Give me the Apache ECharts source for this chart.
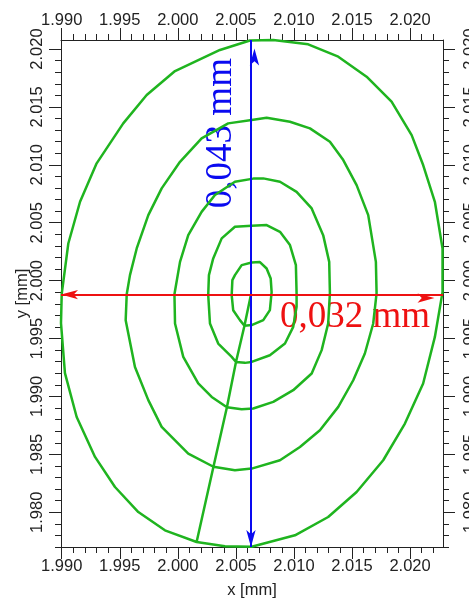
<!DOCTYPE html>
<html>
<head>
<meta charset="utf-8">
<script src="https://cdn.jsdelivr.net/npm/echarts@6/dist/echarts.min.js"></script>
<style>
  html, body { margin: 0; padding: 0; background: #ffffff; }
  #main { width: 469px; height: 598px; }
</style>
</head>
<body>
<div id="main"></div>
<script>
// Scan path: starts at the centre, then each ring opens and closes where the feed line crosses it
const startPoint = [2.00628, 1.99870];

const ring1 = [
  [2.00574, 1.99611], [2.00535, 1.99659], [2.00477, 1.99745], [2.00464, 1.99875], [2.00470, 2.00004],
  [2.00492, 2.00048], [2.00550, 2.00134], [2.00636, 2.00156], [2.00707, 2.00160], [2.00765, 2.00105],
  [2.00800, 2.00019], [2.00808, 1.99901], [2.00793, 1.99745], [2.00736, 1.99659], [2.00636, 1.99616],
  [2.00574, 1.99611]
];

const ring2 = [
  [2.00501, 1.99298], [2.00464, 1.99342], [2.00348, 1.99457], [2.00277, 1.99630], [2.00262, 1.99875],
  [2.00268, 2.00048], [2.00305, 2.00192], [2.00378, 2.00365], [2.00492, 2.00465], [2.00636, 2.00475],
  [2.00765, 2.00480], [2.00880, 2.00422], [2.00966, 2.00307], [2.01017, 2.00134], [2.01023, 1.99892],
  [2.01023, 1.99774], [2.00994, 1.99601], [2.00923, 1.99457], [2.00793, 1.99356], [2.00636, 1.99298],
  [2.00578, 1.99290], [2.00501, 1.99298]
];

const ring3 = [
  [2.00423, 1.98907], [2.00292, 1.98996], [2.00176, 1.99112], [2.00047, 1.99342], [1.99976, 1.99630],
  [1.99971, 1.99883], [2.00019, 2.00162], [2.00090, 2.00393], [2.00205, 2.00594], [2.00320, 2.00739],
  [2.00492, 2.00854], [2.00650, 2.00881], [2.00736, 2.00883], [2.00880, 2.00854], [2.01023, 2.00767],
  [2.01153, 2.00624], [2.01252, 2.00393], [2.01304, 2.00162], [2.01310, 1.99892], [2.01295, 1.99630],
  [2.01239, 1.99400], [2.01153, 1.99198], [2.00994, 1.99054], [2.00822, 1.98953], [2.00650, 1.98896],
  [2.00550, 1.98890], [2.00423, 1.98907]
];

const ring4 = [
  [2.00307, 1.98393], [2.00090, 1.98507], [1.99861, 1.98737], [1.99746, 1.98968], [1.99631, 1.99255],
  [1.99551, 1.99659], [1.99560, 1.99883], [1.99588, 2.00048], [1.99646, 2.00278], [1.99746, 2.00566],
  [1.99861, 2.00797], [2.00019, 2.01026], [2.00205, 2.01229], [2.00434, 2.01358], [2.00636, 2.01387],
  [2.00765, 2.01407], [2.00966, 2.01372], [2.01138, 2.01315], [2.01310, 2.01199], [2.01425, 2.01041],
  [2.01540, 2.00825], [2.01640, 2.00566], [2.01706, 2.00162], [2.01712, 1.99892], [2.01683, 1.99630],
  [2.01611, 1.99371], [2.01511, 1.99140], [2.01382, 1.98910], [2.01224, 1.98708], [2.01052, 1.98564],
  [2.00880, 1.98449], [2.00636, 1.98377], [2.00492, 1.98363], [2.00307, 1.98393]
];

const ring5 = [
  [2.00162, 1.97743], [1.99889, 1.97844], [1.99660, 1.98002], [1.99459, 1.98218], [1.99287, 1.98478],
  [1.99129, 1.98823], [1.99028, 1.99201], [1.98994, 1.99633], [1.99000, 1.99883], [1.99057, 2.00321],
  [1.99158, 2.00681], [1.99301, 2.01013], [1.99530, 2.01358], [1.99732, 2.01603], [1.99976, 2.01810],
  [2.00363, 2.01992], [2.00621, 2.02074], [2.00822, 2.02078], [2.01123, 2.02041], [2.01382, 2.01934],
  [2.01626, 2.01761], [2.01841, 2.01545], [2.02014, 2.01257], [2.02113, 2.00998], [2.02214, 2.00681],
  [2.02280, 2.00278], [2.02280, 1.99901], [2.02214, 1.99514], [2.02113, 1.99112], [2.01956, 1.98766],
  [2.01769, 1.98449], [2.01540, 1.98175], [2.01295, 1.97959], [2.01009, 1.97801], [2.00636, 1.97702],
  [2.00406, 1.97706], [2.00162, 1.97743]
];

// Axis extents and labelled ticks
const xRange = [1.98994, 2.02284];
const yRange = [1.97700, 2.02078];
const xTickLabels = [1.990, 1.995, 2.000, 2.005, 2.010, 2.015, 2.020];
const yTickLabels = [1.980, 1.985, 1.990, 1.995, 2.000, 2.005, 2.010, 2.015, 2.020];

// Dimension arrows: full height at x = heightAt, full width at y = widthAt
const heightAt = 2.00630;
const widthAt = 1.99880;
const heightText = '0,043 mm';
const widthText = '0,032 mm';

// unlabelled 0.001 mm subdivisions
function subTicks(from, count) {
  const out = [];
  for (let i = 0; i <= count; i++) out.push(+(from + i * 0.001).toFixed(3));
  return out;
}
const xMinorTicks = subTicks(1.990, 32);
const yMinorTicks = subTicks(1.977, 43);

const pathData = [startPoint].concat(ring1, ring2, ring3, ring4, ring5);

const INK = '#222222';
const GREEN = '#1fb41f';
const BLUE = '#0a0af0';
const RED = '#ee1111';
const SANS = '"Liberation Sans", Arial, sans-serif';
const SERIF = '"Liberation Serif", "Times New Roman", serif';
const fmt = v => v.toFixed(3);

function majorAxis(range, pos, ticks, rotate, margin, withLine) {
  return {
    type: 'value', position: pos, min: range[0], max: range[1],
    splitLine: { show: false },
    axisLine: { show: withLine, onZero: false, lineStyle: { color: INK, width: 1 } },
    axisTick: { show: true, inside: false, length: 12, customValues: ticks, lineStyle: { color: INK, width: 1 } },
    axisLabel: {
      show: true, customValues: ticks, formatter: fmt, rotate: rotate, margin: margin,
      color: INK, fontFamily: SANS, fontSize: 16.5, showMinLabel: true, showMaxLabel: true
    }
  };
}
function minorAxis(range, pos, ticks) {
  return {
    type: 'value', position: pos, min: range[0], max: range[1],
    splitLine: { show: false },
    axisLine: { show: false, onZero: false },
    axisTick: { show: true, inside: false, length: 6, customValues: ticks, lineStyle: { color: INK, width: 1 } },
    axisLabel: { show: false }
  };
}

const xBottom = majorAxis(xRange, 'bottom', xTickLabels, 0, 11, true);
xBottom.name = 'x [mm]';
xBottom.nameLocation = 'middle';
xBottom.nameGap = 35;
xBottom.nameMoveOverlap = false;
xBottom.nameTextStyle = { color: INK, fontFamily: SANS, fontSize: 16.5 };

const yLeft = majorAxis(yRange, 'left', yTickLabels, 90, 15, true);
yLeft.name = 'y [mm]';
yLeft.nameLocation = 'middle';
yLeft.nameGap = 30;
yLeft.nameMoveOverlap = false;
yLeft.nameTextStyle = { color: INK, fontFamily: SANS, fontSize: 16.5 };

const option = {
  animation: false,
  backgroundColor: '#ffffff',
  grid: { left: 61, right: 26, top: 40, bottom: 51, containLabel: false, outerBoundsMode: 'none' },
  xAxis: [
    xBottom,
    majorAxis(xRange, 'top', xTickLabels, 0, 11, true),
    minorAxis(xRange, 'bottom', xMinorTicks),
    minorAxis(xRange, 'top', xMinorTicks)
  ],
  yAxis: [
    yLeft,
    majorAxis(yRange, 'right', yTickLabels, 90, 19, true),
    minorAxis(yRange, 'left', yMinorTicks),
    minorAxis(yRange, 'right', yMinorTicks)
  ],
  series: [{
    type: 'line',
    xAxisIndex: 0, yAxisIndex: 0,
    data: pathData,
    showSymbol: false,
    clip: false,
    lineStyle: { color: GREEN, width: 2.5 },
    markLine: {
      silent: true,
      symbol: ['arrow', 'arrow'],
      symbolSize: [7, 17],
      symbolOffset: [0, '50%'],
      label: { show: false },
      emphasis: { disabled: true },
      data: [
        [{ coord: [heightAt, yRange[0]], lineStyle: { color: BLUE, width: 2, type: 'solid' }, itemStyle: { color: BLUE } },
         { coord: [heightAt, yRange[1]] }],
        [{ coord: [xRange[0], widthAt], lineStyle: { color: RED, width: 2, type: 'solid' }, itemStyle: { color: RED } },
         { coord: [xRange[1], widthAt] }]
      ]
    }
  }]
};

const chart = echarts.init(document.getElementById('main'), null, { renderer: 'canvas', devicePixelRatio: 1 });
chart.setOption(option);

// dimension captions anchored in data space
const heightLabelAt = chart.convertToPixel({ xAxisIndex: 0, yAxisIndex: 0 }, [2.00372, 2.01274]);
const widthLabelAt = chart.convertToPixel({ xAxisIndex: 0, yAxisIndex: 0 }, [2.00880, 1.99685]);
chart.setOption({
  graphic: [
    {
      type: 'text', x: heightLabelAt[0], y: heightLabelAt[1], rotation: Math.PI / 2, silent: true,
      style: { text: heightText, font: '37px ' + SERIF, fill: BLUE, align: 'center', verticalAlign: 'middle' }
    },
    {
      type: 'text', x: widthLabelAt[0], y: widthLabelAt[1], silent: true,
      style: { text: widthText, font: '37px ' + SERIF, fill: RED, align: 'left', verticalAlign: 'middle' }
    }
  ]
});
</script>
</body>
</html>
